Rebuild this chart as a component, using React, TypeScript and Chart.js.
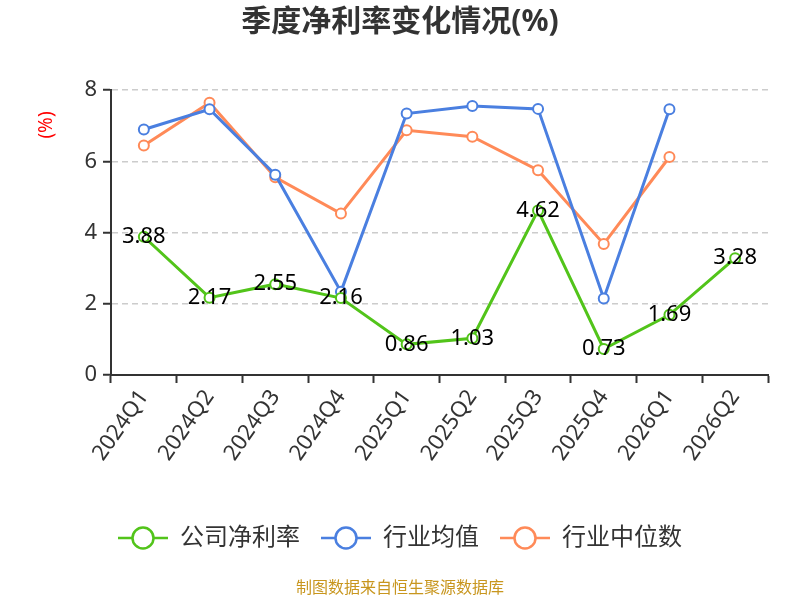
import React, { useEffect, useRef } from 'react';
import { Chart, registerables, Plugin } from 'chart.js';

Chart.register(...registerables);

const quarters = ['2024Q1', '2024Q2', '2024Q3', '2024Q4', '2025Q1', '2025Q2', '2025Q3', '2025Q4', '2026Q1', '2026Q2'];
const companyMargin = [3.88, 2.17, 2.55, 2.16, 0.86, 1.03, 4.62, 0.73, 1.69, 3.28];
const industryMean = [6.89, 7.46, 5.62, 2.34, 7.34, 7.55, 7.47, 2.15, 7.46, null];
const industryMedian = [6.44, 7.64, 5.55, 4.53, 6.87, 6.69, 5.75, 3.68, 6.12, null];
const seriesNames = ['公司净利率', '行业均值', '行业中位数'];
const seriesColors = ['#52c41a', '#4a7fe0', '#ff8a58'];

const FONT = '"Noto Sans", "Noto Sans CJK SC", sans-serif';

function legendIcon(color: string) {
  const c = document.createElement('canvas');
  c.width = 50;
  c.height = 26;
  const ctx = c.getContext('2d')!;
  ctx.strokeStyle = color;
  ctx.lineWidth = 2.5;
  ctx.beginPath();
  ctx.moveTo(0, 13);
  ctx.lineTo(50, 13);
  ctx.stroke();
  ctx.beginPath();
  ctx.arc(25, 13, 10.5, 0, Math.PI * 2);
  ctx.fillStyle = '#fff';
  ctx.fill();
  ctx.stroke();
  return c;
}

const extras: Plugin = {
  id: 'extras',
  afterDatasetsDraw(chart) {
    const ctx = chart.ctx;
    const meta = chart.getDatasetMeta(0);
    ctx.save();
    ctx.font = `22px ${FONT}`;
    ctx.fillStyle = '#000';
    ctx.textAlign = 'center';
    ctx.textBaseline = 'middle';
    meta.data.forEach((pt, i) => {
      ctx.fillText(companyMargin[i].toFixed(2), pt.x, pt.y);
    });
    ctx.restore();
  },
  afterDraw(chart) {
    const ctx = chart.ctx;
    const area = chart.chartArea;

    ctx.save();
    ctx.font = `bold 30px ${FONT}`;
    ctx.fillStyle = '#333';
    ctx.textAlign = 'center';
    ctx.textBaseline = 'middle';
    ctx.fillText('季度净利率变化情况(%)', chart.width / 2, 22);
    ctx.restore();

    ctx.save();
    ctx.font = `19px ${FONT}`;
    ctx.fillStyle = 'red';
    ctx.textAlign = 'center';
    ctx.textBaseline = 'middle';
    ctx.translate(47, area.top + 35);
    ctx.rotate(-Math.PI / 2);
    ctx.fillText('(%)', 0, 0);
    ctx.restore();

    ctx.save();
    ctx.font = `16px ${FONT}`;
    ctx.fillStyle = '#c8961e';
    ctx.textAlign = 'center';
    ctx.textBaseline = 'middle';
    ctx.fillText('制图数据来自恒生聚源数据库', chart.width / 2, 588);
    ctx.restore();
  },
};

export default function App() {
  const canvasRef = useRef<HTMLCanvasElement>(null);

  useEffect(() => {
    const canvas = canvasRef.current;
    if (!canvas) return;
    const series = [companyMargin, industryMean, industryMedian];
    const icons = seriesColors.map(legendIcon);

    const chart = new Chart(canvas, {
      type: 'line',
      data: {
        labels: quarters,
        datasets: series.map((values, i) => ({
          label: seriesNames[i],
          data: values,
          borderColor: seriesColors[i],
          backgroundColor: '#fff',
          borderWidth: 3,
          pointRadius: 5,
          pointBorderWidth: 2,
          pointBackgroundColor: '#fff',
          pointBorderColor: seriesColors[i],
          tension: 0,
          spanGaps: false,
        })),
      },
      options: {
        responsive: false,
        animation: false,
        layout: { padding: { left: 32, right: 32, bottom: 40, top: 90 } },
        plugins: {
          title: { display: false },
          legend: {
            position: 'bottom',
            labels: {
              usePointStyle: true,
              pointStyleWidth: 50,
              color: '#333',
              font: { family: FONT, size: 24 },
              padding: 21,
              generateLabels: () =>
                seriesNames.map((name, i) => ({
                  text: name,
                  pointStyle: icons[i],
                  fillStyle: '#fff',
                  strokeStyle: seriesColors[i],
                  lineWidth: 0,
                  datasetIndex: i,
                  fontColor: '#333',
                })),
            },
          },
          tooltip: { enabled: false },
        },
        scales: {
          x: {
            offset: true,
            afterFit: (scale: any) => {
              scale.height = 130;
            },
            grid: {
              display: true,
              drawOnChartArea: false,
              drawTicks: true,
              tickLength: 8,
              tickColor: '#333',
              offset: true,
              tickWidth: 2,
            },
            border: { color: '#333', width: 2 },
            ticks: {
              color: '#333',
              font: { family: FONT, size: 22 },
              minRotation: 55,
              maxRotation: 55,
              padding: 2,
            },
          },
          y: {
            min: 0,
            max: 8,
            afterFit: (scale: any) => {
              scale.width = 79;
            },
            ticks: {
              stepSize: 2,
              color: '#333',
              font: { family: FONT, size: 22 },
              padding: 6,
            },
            grid: {
              color: '#ccc',
              lineWidth: 1.5,
              tickLength: 8,
              tickColor: '#333',
              tickBorderDash: [],
              tickWidth: 2,
            } as any,
            border: { color: '#333', width: 2, dash: [6, 4] } as any,
          },
        },
      },
      plugins: [extras],
    });

    return () => chart.destroy();
  }, []);

  return (
    <div style={{ position: 'fixed', left: 0, top: 0, width: 800, height: 600, background: '#fff' }}>
      <canvas ref={canvasRef} width={800} height={600} style={{ width: 800, height: 600 }} />
    </div>
  );
}
